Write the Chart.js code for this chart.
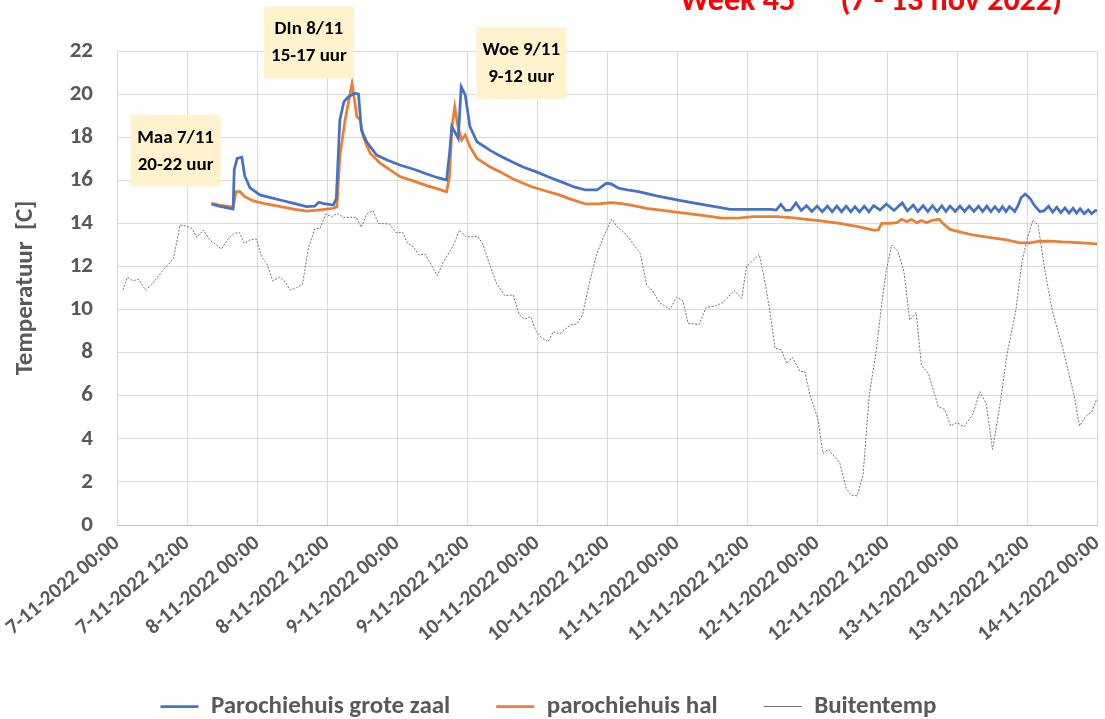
<!DOCTYPE html>
<html>
<head>
<meta charset="utf-8">
<title>Week 45 temperaturen</title>
<script src="https://cdn.jsdelivr.net/npm/chart.js@4.4.1/dist/chart.umd.min.js"></script>
<style>
  html, body { margin: 0; padding: 0; background: #ffffff; }
  canvas { display: block; }
</style>
</head>
<body>
<canvas id="tempChart" width="1105" height="719"></canvas>
<script>
const FONT = "Carlito, Lato, 'Open Sans', sans-serif";
const GREY_TEXT = "#595959";

// x values are hours since 7-11-2022 00:00
const tickLabels = [
  "7-11-2022 00:00", "7-11-2022 12:00", "8-11-2022 00:00", "8-11-2022 12:00",
  "9-11-2022 00:00", "9-11-2022 12:00", "10-11-2022 00:00", "10-11-2022 12:00",
  "11-11-2022 00:00", "11-11-2022 12:00", "12-11-2022 00:00", "12-11-2022 12:00",
  "13-11-2022 00:00", "13-11-2022 12:00", "14-11-2022 00:00"
];
const seriesNames = ["Parochiehuis grote zaal", "parochiehuis hal", "Buitentemp"];

const zaalHours = [
  16.2, 17.5, 19.9, 20.1, 20.6, 21.4, 21.9, 22.8, 24.5, 26.5, 28.5, 30.5, 32.5, 33.9, 34.6, 35.7,
  37.1, 37.6, 38.2, 38.9, 39.7, 40.2, 40.8, 41.4, 41.9, 42.8, 44.5, 46.5, 48.5, 51.0, 53.1, 55.0,
  56.5, 57.0, 57.4, 58.2, 58.5, 59.0, 59.7, 60.5, 61.7, 63.9, 65.7, 67.7, 69.7, 71.8, 74.0, 76.5,
  78.5, 80.3, 82.3, 83.9, 84.7, 86.0, 87.5, 89.4, 92.5, 96.2, 99.5, 103.0, 105.1, 112.2,
  113.0, 113.8, 114.6, 115.5, 116.4, 117.3, 118.2, 119.1, 120.0, 120.9, 121.8, 122.6, 123.4, 124.2,
  125.0, 125.8, 126.5, 127.3, 128.1, 128.9, 129.7, 130.8, 131.9, 133.2, 134.6, 135.5, 136.5, 137.3,
  138.2, 139.0, 139.8, 140.6, 141.4, 142.1, 142.8, 143.7, 144.5, 145.3, 146.1, 146.9, 147.7, 148.4,
  149.1, 149.8, 150.5, 151.2, 151.8, 152.4, 153.0, 153.9, 154.5, 155.0, 155.7, 156.5, 157.3, 158.2,
  158.9, 159.7, 160.4, 161.1, 161.8, 162.5, 163.2, 163.9, 164.5, 165.1, 165.8, 166.5, 167.1, 167.7, 168.0
];
const zaalTemps = [
  14.9, 14.8, 14.66, 16.5, 17.02, 17.07, 16.2, 15.65, 15.32, 15.18, 15.05, 14.92, 14.78, 14.8, 14.98, 14.9,
  14.85, 15.16, 18.8, 19.65, 19.88, 19.96, 20.04, 20.0, 18.33, 17.79, 17.17, 16.92, 16.71, 16.5, 16.29, 16.12,
  16.01, 17.25, 18.49, 18.1, 17.95, 20.34, 19.96, 18.49, 17.79, 17.4, 17.13, 16.86, 16.6, 16.4, 16.15, 15.89,
  15.68, 15.55, 15.55, 15.86, 15.83, 15.63, 15.55, 15.47, 15.28, 15.08, 14.92, 14.75, 14.65, 14.65,
  14.62, 14.88, 14.6, 14.62, 14.95, 14.6, 14.82, 14.55, 14.8, 14.54, 14.8, 14.54, 14.8, 14.54,
  14.8, 14.54, 14.78, 14.53, 14.8, 14.54, 14.82, 14.62, 14.9, 14.6, 14.95, 14.58, 14.85, 14.55,
  14.82, 14.55, 14.82, 14.55, 14.82, 14.55, 14.8, 14.55, 14.8, 14.55, 14.8, 14.55, 14.8, 14.55,
  14.8, 14.55, 14.78, 14.55, 14.78, 14.55, 14.78, 14.55, 14.85, 15.2, 15.36, 15.16, 14.82, 14.55,
  14.58, 14.8, 14.52, 14.75, 14.5, 14.72, 14.48, 14.7, 14.47, 14.68, 14.45, 14.62, 14.45, 14.6, 14.58
];

const halHours = [
  16.2, 17.5, 19.9, 20.1, 20.4, 21.1, 21.9, 23.4, 25.5, 28.5, 30.5, 32.5, 34.0, 37.1, 37.7, 38.2,
  39.1, 39.7, 40.3, 40.8, 41.1, 41.7, 42.2, 43.4, 45.1, 48.5, 51.0, 53.1, 55.0, 56.5, 57.0, 57.4,
  57.9, 58.5, 59.1, 59.7, 60.5, 61.7, 63.9, 65.6, 68.0, 71.1, 73.5, 75.8, 78.0, 80.3, 82.6, 84.7,
  86.5, 88.1, 90.8, 93.5, 96.2, 100.0, 103.7, 106.8, 109.2, 113.2, 116.0, 118.2, 121.0, 123.9,
  127.0, 129.7, 130.5, 131.1, 132.5, 133.7, 134.5, 135.4, 136.2, 137.1, 137.9, 138.8, 139.6, 140.9,
  141.8, 142.8, 144.8, 146.8, 149.5, 152.5, 154.8, 156.5, 158.0, 159.9, 162.0, 163.9, 166.0, 168.0
];
const halTemps = [
  14.93, 14.85, 14.75, 15.0, 15.47, 15.47, 15.24, 15.04, 14.9, 14.75, 14.65, 14.57, 14.6, 14.7, 14.77, 17.09,
  18.8, 19.65, 20.5, 19.57, 18.95, 18.8, 18.02, 17.25, 16.79, 16.17, 15.95, 15.75, 15.6, 15.47, 16.17, 18.41,
  19.41, 18.41, 17.87, 18.1, 17.56, 17.02, 16.63, 16.4, 16.05, 15.7, 15.5, 15.32, 15.1, 14.9, 14.9, 14.96,
  14.92, 14.85, 14.7, 14.6, 14.51, 14.38, 14.24, 14.26, 14.31, 14.31, 14.25, 14.19, 14.1, 14.0,
  13.85, 13.69, 13.7, 14.0, 14.0, 14.03, 14.19, 14.08, 14.19, 14.03, 14.13, 14.03, 14.13, 14.19,
  13.95, 13.72, 13.58, 13.46, 13.35, 13.23, 13.1, 13.1, 13.16, 13.18, 13.14, 13.12, 13.08, 13.05
];

const buitenHours = [
  1.0, 1.8, 2.7, 3.7, 4.9, 5.9, 7.7, 9.7, 10.8, 11.9, 12.8, 13.7, 14.8, 15.9, 17.9, 19.1,
  20.1, 21.0, 21.8, 22.8, 23.9, 24.8, 25.7, 26.7, 27.9, 28.6, 29.7, 30.8, 31.8, 32.8, 33.9, 34.8,
  35.8, 36.8, 37.8, 38.8, 41.0, 41.9, 42.8, 43.9, 44.8, 46.7, 47.8, 49.0, 49.8, 50.8, 51.8, 52.8,
  53.8, 54.9, 55.9, 57.7, 58.7, 59.8, 61.9, 62.7, 63.9, 65.1, 66.5, 67.9, 69.0, 69.9, 70.9, 71.9,
  72.8, 73.9, 74.8, 75.9, 77.7, 78.8, 79.8, 81.1, 82.2, 83.4, 84.8, 85.7, 87.1, 89.7, 90.8, 91.9,
  93.0, 94.8, 95.9, 97.0, 97.9, 99.8, 101.0, 102.5, 103.9, 105.8, 107.1, 107.9, 110.1, 111.1, 111.9, 112.8,
  113.9, 114.8, 115.8, 117.1, 117.9, 118.8, 120.2, 121.0, 121.9, 123.9, 125.0, 125.9, 126.9, 127.9,
  128.4, 129.0, 130.1, 131.1, 131.9, 132.8, 133.9, 134.9, 135.9, 137.0, 137.9, 139.1, 140.8, 141.9,
  142.9, 144.0, 145.2, 146.8, 147.9, 149.0, 150.1, 151.4, 152.6, 154.1, 155.1, 155.9, 157.0, 157.9,
  159.1, 160.3, 162.0, 164.0, 165.0, 166.0, 167.1, 168.0
];
const buitenTemps = [
  10.9, 11.5, 11.34, 11.4, 10.9, 11.14, 11.76, 12.38, 13.92, 13.88, 13.77, 13.34, 13.69, 13.23, 12.81, 13.3,
  13.54, 13.57, 13.07, 13.23, 13.27, 12.45, 12.11, 11.34, 11.5, 11.37, 10.9, 11.02, 11.17, 12.84, 13.74, 13.77,
  14.43, 14.31, 14.46, 14.28, 14.28, 13.82, 14.43, 14.59, 14.0, 13.97, 13.58, 13.58, 13.07, 12.92, 12.53, 12.58,
  12.11, 11.57, 12.17, 13.0, 13.69, 13.38, 13.38, 13.04, 12.07, 11.19, 10.64, 10.68, 9.75, 9.55, 9.67, 8.97,
  8.69, 8.51, 8.97, 8.87, 9.28, 9.33, 9.75, 11.37, 12.53, 13.38, 14.2, 13.85, 13.54, 12.61, 11.14, 10.83,
  10.32, 10.01, 10.57, 10.41, 9.36, 9.31, 10.1, 10.16, 10.33, 10.88, 10.52, 11.99, 12.56, 11.22, 9.98, 8.2,
  8.12, 7.5, 7.78, 7.12, 7.12, 6.03, 4.87, 3.33, 3.51, 2.89, 1.7, 1.39, 1.35, 2.32,
  4.1, 6.11, 7.97, 10.29, 11.84, 13.0, 12.69, 11.76, 9.51, 9.86, 7.43, 7.04, 5.49, 5.37,
  4.6, 4.75, 4.56, 5.18, 6.19, 5.65, 3.51, 5.65, 7.97, 9.98, 12.15, 13.15, 14.16, 13.92,
  11.76, 9.98, 8.35, 6.11, 4.6, 5.03, 5.26, 5.88
];

const noteTexts = [
  ["Maa 7/11", "20-22 uur"],
  ["DIn 8/11", "15-17 uur"],
  ["Woe 9/11", "9-12 uur"]
];

function toPoints(hours, temps) {
  return hours.map((h, i) => ({ x: h, y: temps[i] }));
}

// red week heading in the top right corner
const weekTitle = {
  id: "weekTitle",
  afterDraw(chart) {
    const ctx = chart.ctx;
    ctx.save();
    ctx.fillStyle = "#ff0000";
    ctx.font = "bold 32px " + FONT;
    ctx.textBaseline = "alphabetic";
    ctx.textAlign = "left";
    ctx.fillText("Week 45", 680, 10);
    ctx.textAlign = "right";
    ctx.fillText("(7 - 13 nov 2022)", 1062, 10);
    ctx.restore();
  }
};

// yellow call-outs for the heating periods, centred on (hour, temp)
const eventNotes = {
  id: "eventNotes",
  afterDatasetsDraw(chart, args, opts) {
    const ctx = chart.ctx;
    const xs = chart.scales.x, ys = chart.scales.y;
    ctx.save();
    ctx.font = "bold 19px " + FONT;
    ctx.textAlign = "center";
    ctx.textBaseline = "middle";
    opts.anchors.forEach((a, i) => {
      const cx = xs.getPixelForValue(a[0]);
      const cy = ys.getPixelForValue(a[1]);
      ctx.fillStyle = "#fff2cc";
      ctx.fillRect(cx - 45, cy - 36, 90, 72);
      ctx.fillStyle = "#000000";
      ctx.fillText(noteTexts[i][0], cx, cy - 13);
      ctx.fillText(noteTexts[i][1], cx, cy + 14);
    });
    ctx.restore();
  }
};

new Chart(document.getElementById("tempChart"), {
  type: "line",
  data: {
    datasets: [
      {
        label: seriesNames[0],
        data: toPoints(zaalHours, zaalTemps),
        borderColor: "#4472c4",
        backgroundColor: "#4472c4",
        borderWidth: 2.75,
        pointRadius: 0,
        tension: 0
      },
      {
        label: seriesNames[1],
        data: toPoints(halHours, halTemps),
        borderColor: "#ed7d31",
        backgroundColor: "#ed7d31",
        borderWidth: 2.75,
        pointRadius: 0,
        tension: 0
      },
      {
        label: seriesNames[2],
        data: toPoints(buitenHours, buitenTemps),
        borderColor: "#767171",
        backgroundColor: "#767171",
        borderWidth: 1,
        borderDash: [2, 1.5],
        pointRadius: 0,
        tension: 0
      }
    ]
  },
  options: {
    responsive: false,
    devicePixelRatio: 1,
    animation: false,
    layout: { padding: { top: 51, right: 8, left: 0, bottom: -10 } },
    scales: {
      x: {
        type: "linear",
        min: 0,
        max: 168,
        afterFit(scale) {
          scale.height = 123;
          scale.paddingLeft = 0;
          scale.paddingRight = 0;
        },
        ticks: {
          stepSize: 12,
          autoSkip: false,
          minRotation: 40,
          maxRotation: 40,
          padding: 6,
          color: GREY_TEXT,
          font: { family: FONT, size: 21, weight: "bold" },
          callback: (value, index) => tickLabels[index]
        },
        grid: { color: "#d9d9d9", drawTicks: false },
        border: { color: "#bfbfbf" }
      },
      y: {
        min: 0,
        max: 22,
        afterFit(scale) {
          scale.width = 117;
        },
        ticks: {
          stepSize: 2,
          padding: 24,
          color: GREY_TEXT,
          font: { family: FONT, size: 23, weight: "bold" }
        },
        grid: { color: "#d9d9d9", drawTicks: false },
        border: { color: "#d9d9d9" },
        title: {
          display: true,
          text: "Temperatuur  [C]",
          color: GREY_TEXT,
          font: { family: FONT, size: 25, weight: "bold" },
          padding: { top: 11 }
        }
      }
    },
    plugins: {
      legend: {
        position: "bottom",
        labels: {
          usePointStyle: true,
          pointStyleWidth: 38,
          pointStyle: "line",
          padding: 46,
          color: GREY_TEXT,
          font: { family: FONT, size: 25, weight: "bold" }
        }
      },
      tooltip: { enabled: false },
      eventNotes: {
        anchors: [[10.05, 17.37], [32.9, 22.4], [69.3, 21.44]]
      }
    }
  },
  plugins: [weekTitle, eventNotes]
});
</script>
</body>
</html>
